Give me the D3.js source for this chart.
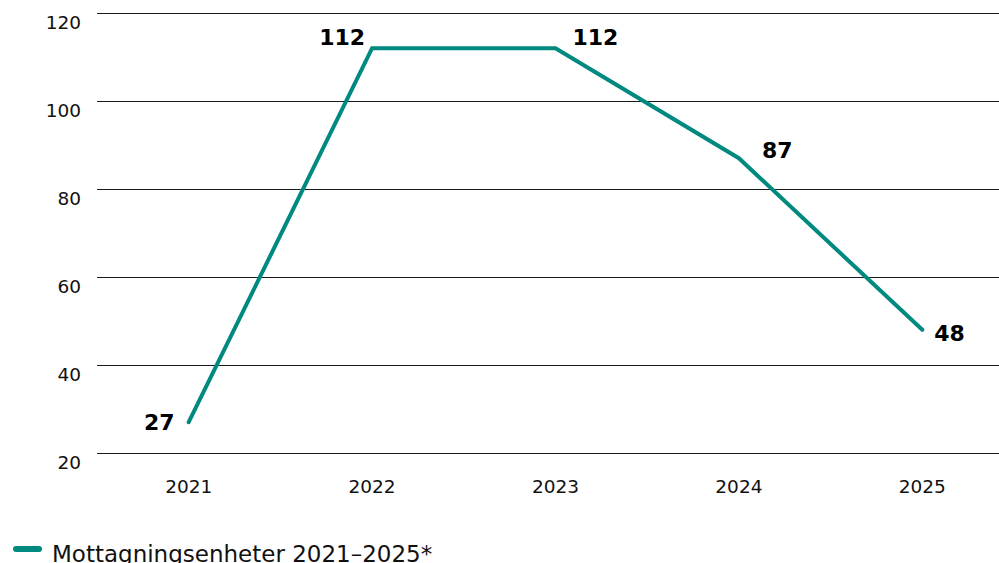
<!DOCTYPE html>
<html lang="sv">
<head>
    <meta charset="UTF-8">
    <title>Mottagningsenheter</title>
    <script src="https://cdn.jsdelivr.net/npm/d3@7/dist/d3.min.js"></script>
    <style>
        body { margin: 0; background: #fff; }
        text { font-family: "DejaVu Sans", Verdana, sans-serif; }
    </style>
</head>
<body>
<script>
    // data
    const years = ["2021", "2022", "2023", "2024", "2025"];
    const values = [27, 112, 112, 87, 48];
    const yTicks = [20, 40, 60, 80, 100, 120];
    const seriesName = "Mottagningsenheter 2021\u20132025*";

    // label placement per point: [dx, dy, anchor]
    const labelPos = [
        [-14, 8, "end"],
        [-7, -3, "end"],
        [17, -3, "start"],
        [23, 0, "start"],
        [12, 11, "start"]
    ];

    const w = 999, h = 563;
    const color = "#00897f";

    const svg = d3.select("body").append("svg")
        .attr("width", w)
        .attr("height", h);

    const x = d3.scalePoint()
        .domain(years)
        .range([97, 1014])
        .padding(0.5);

    const y = d3.scaleLinear()
        .domain([20, 120])
        .range([453, 13]);

    // gridlines
    svg.append("g")
        .selectAll("line")
        .data(yTicks)
        .enter()
        .append("line")
        .attr("x1", 97)
        .attr("x2", w)
        .attr("y1", d => y(d) + 0.5)
        .attr("y2", d => y(d) + 0.5)
        .attr("stroke", "#1a1a1a")
        .attr("stroke-width", 1);

    // y labels
    svg.append("g")
        .selectAll("text")
        .data(yTicks)
        .enter()
        .append("text")
        .attr("x", 81)
        .attr("y", d => y(d) + 16)
        .attr("text-anchor", "end")
        .attr("font-size", "18.5px")
        .attr("fill", "#111")
        .text(d => d);

    // x labels
    svg.append("g")
        .selectAll("text")
        .data(years)
        .enter()
        .append("text")
        .attr("x", d => x(d))
        .attr("y", 493)
        .attr("text-anchor", "middle")
        .attr("font-size", "18.5px")
        .attr("fill", "#111")
        .text(d => d);

    const line = d3.line()
        .x((d, i) => x(years[i]))
        .y(d => y(d));

    svg.append("path")
        .datum(values)
        .attr("d", line)
        .attr("fill", "none")
        .attr("stroke", color)
        .attr("stroke-width", 4)
        .attr("stroke-linejoin", "miter")
        .attr("stroke-linecap", "round");

    // value labels
    svg.append("g")
        .selectAll("text")
        .data(values)
        .enter()
        .append("text")
        .attr("x", (d, i) => x(years[i]) + labelPos[i][0])
        .attr("y", (d, i) => y(d) + labelPos[i][1])
        .attr("text-anchor", (d, i) => labelPos[i][2])
        .attr("font-size", "22px")
        .attr("font-weight", "bold")
        .attr("fill", "#000")
        .text(d => d);

    // legend
    const lg = svg.append("g").attr("transform", "translate(0,549)");
    lg.append("line")
        .attr("x1", 16).attr("x2", 39)
        .attr("y1", 0).attr("y2", 0)
        .attr("stroke", color)
        .attr("stroke-width", 6)
        .attr("stroke-linecap", "round");
    lg.append("text")
        .attr("x", 52)
        .attr("y", 13)
        .attr("font-size", "23px")
        .attr("fill", "#111")
        .text(seriesName);
</script>
</body>
</html>
